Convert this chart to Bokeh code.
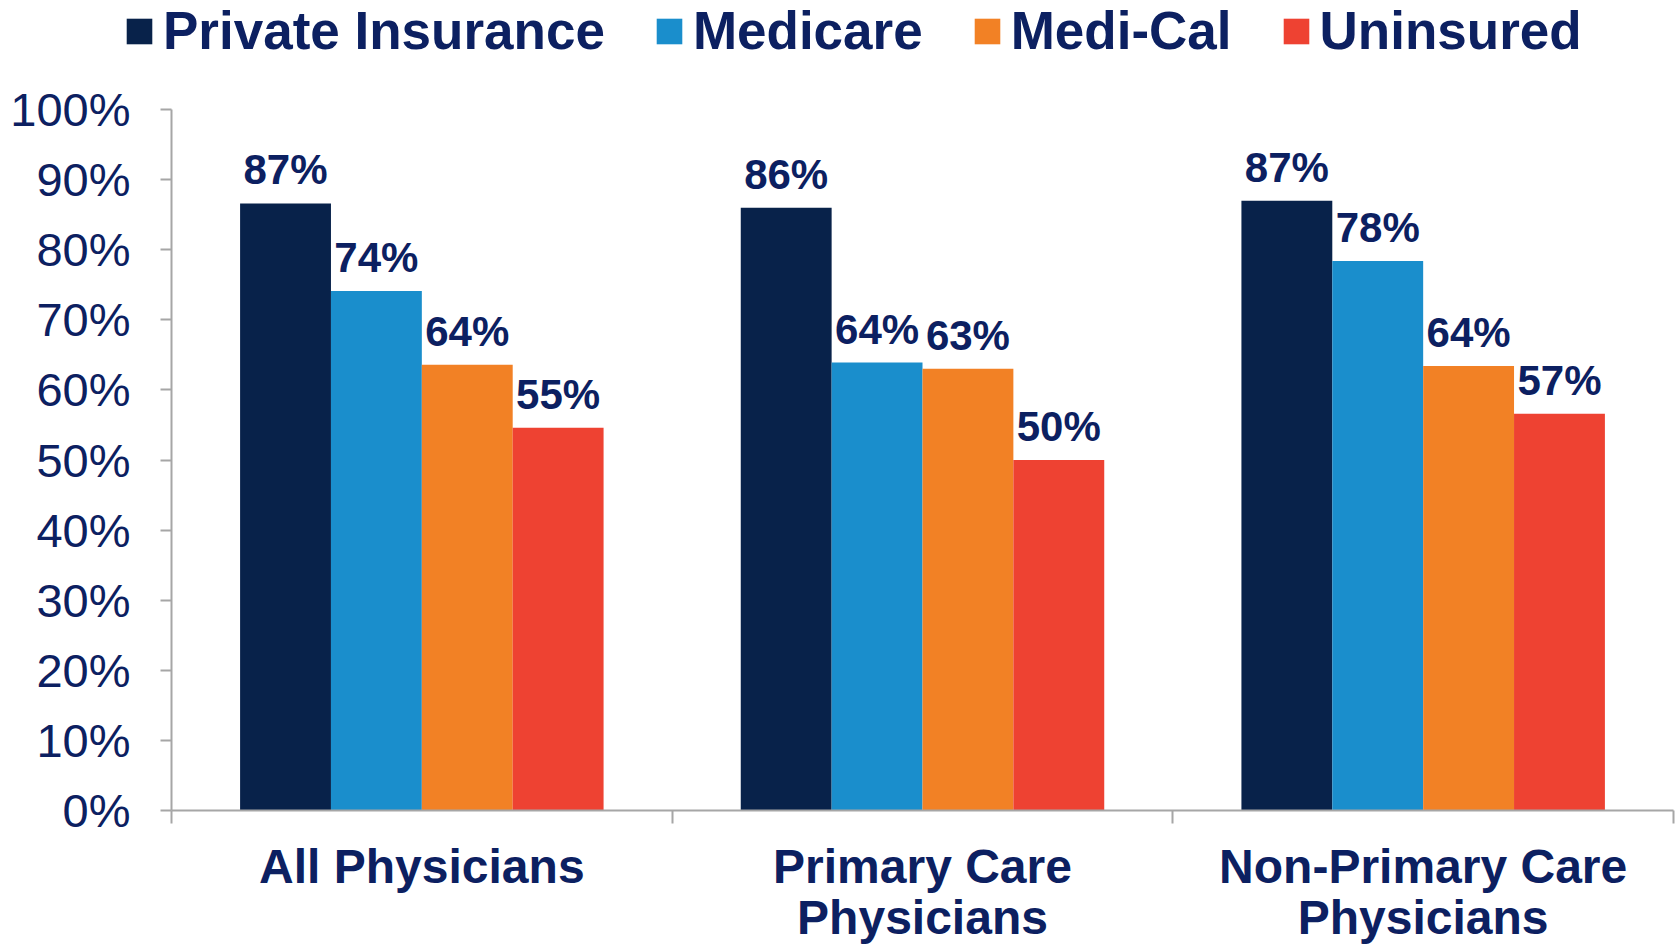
from bokeh.plotting import figure
from bokeh.models import ColumnDataSource, FixedTicker, Range1d, LabelSet, Legend, LegendItem
from bokeh.embed import file_html
from bokeh.resources import INLINE
from bokeh.core.properties import value

categories = ["All Physicians", "Primary Care\nPhysicians", "Non-Primary Care\nPhysicians"]
series_names = ["Private Insurance", "Medicare", "Medi-Cal", "Uninsured"]
private_vals = [86.6, 86.0, 87.0]
medicare_vals = [74.1, 63.9, 78.4]
medical_vals = [63.6, 63.0, 63.4]
uninsured_vals = [54.6, 50.0, 56.6]
private_labels = ["87%", "86%", "87%"]
medicare_labels = ["74%", "64%", "78%"]
medical_labels = ["64%", "63%", "64%"]
uninsured_labels = ["55%", "50%", "57%"]
y_ticks = [0, 10, 20, 30, 40, 50, 60, 70, 80, 90, 100]

colors = ["#08224a", "#1a8ecc", "#f28125", "#ee4232"]
NAVY = "#0c2061"
AXIS = "#a6a6a6"
FONT = "Liberation Sans"

W, H = 1676, 946
# plot area in canvas pixels: x 0..3 -> 171..1673, y 0..100 -> 810..109
X0, X1, Y0, Y100 = 171, 1673, 810, 109
ncat = len(categories)
xs_per_px = ncat / (X1 - X0)
ys_per_px = 100 / (Y0 - Y100)
x_range = Range1d(-X0 * xs_per_px, ncat + (W - X1) * xs_per_px)
y_range = Range1d(-(H - Y0) * ys_per_px, 100 + Y100 * ys_per_px)

p = figure(width=W, height=H, x_range=x_range, y_range=y_range,
           output_backend="svg", toolbar_location=None,
           min_border_left=0, min_border_right=0, min_border_top=0, min_border_bottom=0)
p.outline_line_color = None
p.xgrid.grid_line_color = None
p.ygrid.grid_line_color = None
p.background_fill_color = "white"
p.border_fill_color = "white"

bar_w = 0.1815
offsets = [-1.5, -0.5, 0.5, 1.5]
all_vals = [private_vals, medicare_vals, medical_vals, uninsured_vals]
all_labels = [private_labels, medicare_labels, medical_labels, uninsured_labels]

items = []
for k in range(4):
    xs = [i + 0.5 + offsets[k] * bar_w for i in range(ncat)]
    src = ColumnDataSource(dict(x=xs, top=all_vals[k], label=all_labels[k]))
    r = p.vbar(x="x", top="top", width=bar_w, bottom=0, source=src,
               fill_color=colors[k], line_color=None)
    items.append(LegendItem(label=series_names[k], renderers=[r]))
    ls = LabelSet(x="x", y="top", text="label", source=src, y_offset=19,
                  text_align="center", text_baseline="alphabetic",
                  text_font=value(FONT), text_font_style="bold", text_font_size="42px",
                  text_color=NAVY)
    p.add_layout(ls)

# category labels below the x axis (two lines)
cat_x = [i + 0.5 for i in range(ncat)]
line1 = [c.split("\n")[0] for c in categories]
line2 = [c.split("\n")[1] if "\n" in c else "" for c in categories]
for txt, yy in ((line1, H - 866), (line2, H - 917)):
    keep = [j for j, t in enumerate(txt) if t]
    csrc = ColumnDataSource(dict(x=[cat_x[j] for j in keep], text=[txt[j] for j in keep]))
    p.add_layout(LabelSet(x="x", y=yy, y_units="screen", text="text", source=csrc,
                          text_align="center", text_baseline="middle",
                          text_font=value(FONT), text_font_style="bold",
                          text_font_size="48px", text_color=NAVY))

legend = Legend(items=items, orientation="horizontal", location=(123, 885),
                label_text_font=FONT, label_text_font_style="bold",
                label_text_font_size="53px", label_text_color=NAVY,
                glyph_width=32, glyph_height=32, label_standoff=8, spacing=48,
                padding=0, margin=0, border_line_color=None, background_fill_alpha=0)
p.add_layout(legend, "center")

# y axis
ya = p.yaxis[0]
ya.fixed_location = 0
ya.bounds = (0, 100)
ya.ticker = FixedTicker(ticks=y_ticks)
ya.major_label_overrides = {t: f"{t}%" for t in y_ticks}
ya.axis_line_color = AXIS
ya.axis_line_width = 2
ya.major_tick_line_color = AXIS
ya.major_tick_line_width = 2
ya.major_tick_out = 11
ya.major_tick_in = 0
ya.minor_tick_line_color = None
ya.major_label_standoff = 30
ya.major_label_text_font = FONT
ya.major_label_text_font_size = "47px"
ya.major_label_text_color = NAVY

# x axis
xa = p.xaxis[0]
xa.fixed_location = 0
xa.bounds = (0, ncat)
xa.ticker = FixedTicker(ticks=[], minor_ticks=list(range(ncat + 1)))
xa.axis_line_color = AXIS
xa.axis_line_width = 2
xa.major_tick_line_color = None
xa.major_tick_out = 0
xa.major_tick_in = 0
xa.minor_tick_line_color = AXIS
xa.minor_tick_line_width = 2
xa.minor_tick_out = 13
xa.minor_tick_in = 0

open("out.html", "w").write(file_html(p, INLINE))
